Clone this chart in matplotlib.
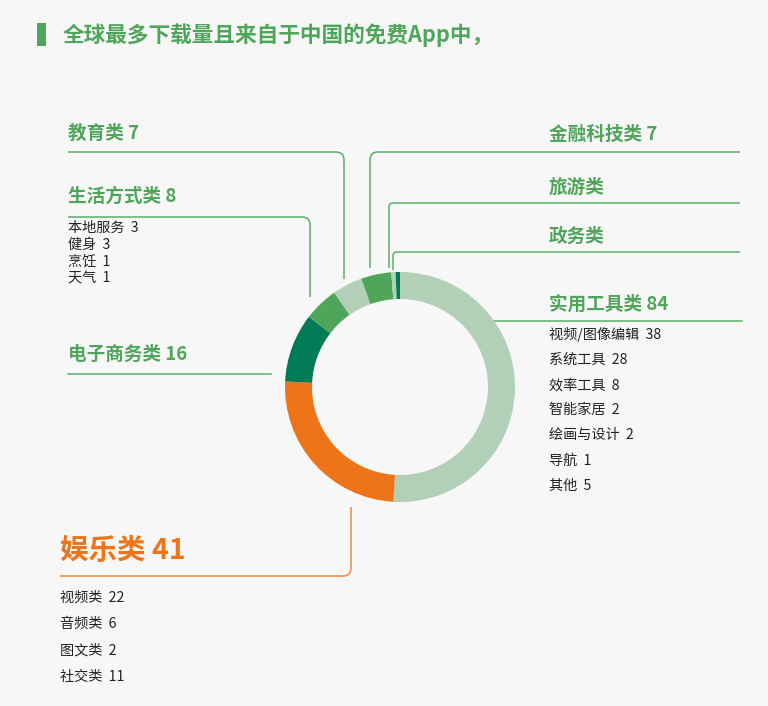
import matplotlib.pyplot as plt
from matplotlib.path import Path
from matplotlib.patches import PathPatch, Rectangle

plt.rcParams['font.family'] = ['Noto Sans CJK SC', 'DejaVu Sans']

# donut slices, clockwise from 12 o'clock
categories = ['实用工具类', '娱乐类', '电子商务类', '生活方式类', '教育类', '金融科技类', '旅游类', '政务类']
counts = [84, 41, 16, 8, 7, 7, 1, 1]
show_count = [True, True, True, True, True, True, False, False]
slice_colors = ['#b2cfb7', '#ee7419', '#017b55', '#4fa55a', '#b2cfb7', '#4fa55a', '#b2cfb7', '#017b55']

tools_items = ['视频/图像编辑', '系统工具', '效率工具', '智能家居', '绘画与设计', '导航', '其他']
tools_counts = [38, 28, 8, 2, 2, 1, 5]
ent_items = ['视频类', '音频类', '图文类', '社交类']
ent_counts = [22, 6, 2, 11]
life_items = ['本地服务', '健身', '烹饪', '天气']
life_counts = [3, 3, 1, 1]

title = '全球最多下载量且来自于中国的免费App中，'

BG = '#f7f7f7'
GREEN = '#4fa55a'
LINE = '#5cae68'
ORANGE = '#ee7419'
DARK = '#222222'

fig = plt.figure(figsize=(7.68, 7.06), dpi=100, facecolor=BG)
ax = fig.add_axes([0, 0, 1, 1])
ax.set_facecolor(BG)

ax.pie(counts, colors=slice_colors, startangle=-90, counterclock=True,
       center=(400, 387), radius=115,
       wedgeprops=dict(width=27, linewidth=0))

ax.set_xlim(0, 768)
ax.set_ylim(706, 0)
ax.set_aspect('equal')
ax.axis('off')


def elbow(p0, corner, p1, color=LINE, r=8):
    # horizontal/vertical leader line with a rounded corner
    cx, cy = corner
    def back(p):
        dx, dy = p[0] - cx, p[1] - cy
        d = (dx ** 2 + dy ** 2) ** 0.5
        return (cx + dx / d * r, cy + dy / d * r)
    a, b = back(p0), back(p1)
    verts = [p0, a, corner, b, p1]
    codes = [Path.MOVETO, Path.LINETO, Path.CURVE3, Path.CURVE3, Path.LINETO]
    ax.add_patch(PathPatch(Path(verts, codes), fill=False, edgecolor=color, lw=1.1))


def header(x, y, i, size=13.4, color=GREEN):
    txt = categories[i]
    if show_count[i]:
        txt += ' ' + str(counts[i])
    ax.text(x, y, txt, fontsize=size, fontweight='bold', color=color, va='center', ha='left')


def items(x, y0, step, names, vals):
    for k, (n, v) in enumerate(zip(names, vals)):
        ax.text(x, y0 + k * step, n + '  ' + str(v), fontsize=10.2, color=DARK, va='center', ha='left')


# title
ax.add_patch(Rectangle((37, 23), 9, 23, color=GREEN, lw=0))
ax.text(63, 35, title, fontsize=15.6, fontweight='bold', color=GREEN, va='center', ha='left')

# left side
header(68, 133, 4)
elbow((68, 152), (344, 152), (344, 279))

header(68, 196, 3)
elbow((68, 217), (310, 217), (310, 297))
items(68, 228, 17, life_items, life_counts)

header(68, 354, 2)
ax.plot([68, 271], [374, 374], color=LINE, lw=1.1)

header(60, 551, 1, size=20.5, color=ORANGE)
elbow((60, 576), (351, 576), (351, 507), color='#f08a3c')
items(60, 598, 26.3, ent_items, ent_counts)

# right side
header(549, 134, 5)
elbow((740, 152), (370, 152), (370, 268))

header(549, 187, 6)
elbow((740, 203), (389, 203), (389, 268), r=4)

header(549, 236, 7)
elbow((740, 252), (393, 252), (393, 270), r=4)

header(549, 304, 0)
ax.plot([495, 742], [321, 321], color=LINE, lw=1.1)
items(549, 335, 25.1, tools_items, tools_counts)

fig.savefig('out.png', dpi=100, facecolor=BG)
